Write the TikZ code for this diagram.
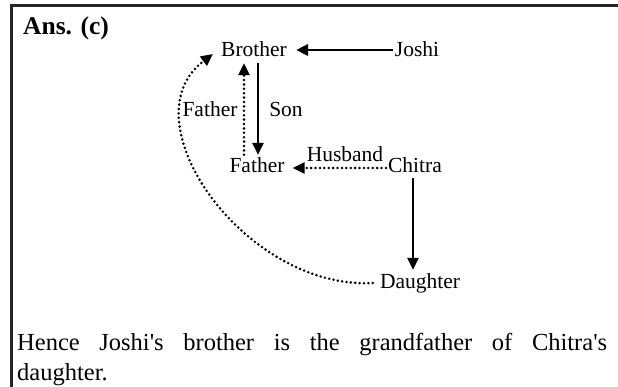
\documentclass[tikz,border=0pt]{standalone}
\usepackage{fontspec}
\setmainfont{Liberation Serif}
\usetikzlibrary{arrows.meta}
\tikzset{
  lbl/.style={inner sep=0pt, anchor=base, text height=14pt, text depth=0pt, font=\fontsize{21.5}{24}\selectfont},
  solidarr/.style={line width=2.8pt, -{Triangle[length=12pt,width=11pt]}},
  dotarr/.style={line width=2.8pt, line cap=round, dash pattern=on 0pt off 4.4pt, -{Triangle[length=12pt,width=11pt]}},
  border/.style={line width=2.4pt, draw=black!85},
  body/.style={inner sep=0pt, anchor=base west, font=\fontsize{24.5}{28}\selectfont}
}
\begin{document}
\begin{tikzpicture}[x=1pt,y=-1pt]
\useasboundingbox (0,0) rectangle (618,387);
% frame
\coordinate (tl) at (11.5,5.5);
\draw[border] (618,5.5) -- (tl) -- (11.5,387);
% heading
\node[inner sep=0pt, anchor=base west, font=\fontsize{25.5}{28}\selectfont\bfseries] (ans) at (23,35) {Ans. (c)};
% nodes
\node[lbl] (B) at (254,57) {Brother};
\node[lbl] (J) at (417,57) {Joshi};
\node[lbl] (F) at (257,173) {Father};
\node[lbl] (C) at (415,173) {Chitra};
\node[lbl] (D) at (420,288) {Daughter};
% edge labels
\node[lbl] (lf) at (210,117) {Father};
\node[lbl] (ls) at (286,117) {Son};
\node[lbl] (lh) at (345,162) {Husband};
% connectors
\draw[solidarr] ([xshift=-2pt]J.west) -- ([xshift=9pt]B.east);
\draw[solidarr] ([xshift=4pt,yshift=-6pt]B.south) -- ([xshift=1pt,yshift=4pt]F.north);
\draw[dotarr] ([xshift=-13pt,yshift=4pt]F.north) -- ([xshift=-10pt,yshift=-6pt]B.south);
\draw[dotarr] ([xshift=-2pt,yshift=-2pt]C.west) -- ([xshift=8pt,yshift=-2pt]F.east);
\draw[solidarr] ([xshift=-2pt,yshift=-5pt]C.south) -- ([xshift=-7pt,yshift=4pt]D.north);
\draw[dotarr] ([xshift=-7pt,yshift=-2pt]D.west) .. controls (245,290) and (125,120) .. ([xshift=-8pt,yshift=-4pt]B.west);
% conclusion
\node[body] (t1) at (17,350) {\makebox[590pt][s]{Hence Joshi\textquotesingle s brother is the grandfather of Chitra\textquotesingle s}};
\node[body] (t2) at (17,380) {daughter.};
\end{tikzpicture}
\end{document}
